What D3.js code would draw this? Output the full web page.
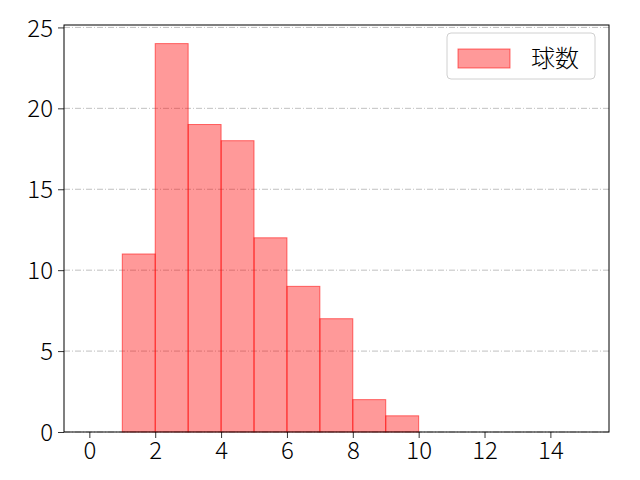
<!DOCTYPE html>
<html>
<head>
<meta charset="utf-8">
<script src="https://cdn.jsdelivr.net/npm/d3@7"></script>
<style>
  body { margin: 0; background: #fff; }
  text { font-family: "Noto Sans CJK JP", "DejaVu Sans", sans-serif; }
</style>
</head>
<body>
<svg id="chart" width="640" height="480"></svg>
<script>
// histogram bins (left edges) and counts
const binStarts = [1, 2, 3, 4, 5, 6, 7, 8, 9];
const counts = [11, 24, 19, 18, 12, 9, 7, 2, 1];
const xTicks = [0, 2, 4, 6, 8, 10, 12, 14];
const yTicks = [0, 5, 10, 15, 20, 25];
const seriesName = "球数";

const svg = d3.select("#chart");
const margin = {left: 64, right: 31, top: 25, bottom: 48};
const width = 640 - margin.left - margin.right;
const height = 480 - margin.top - margin.bottom;

const x = d3.scaleLinear().domain([-0.77, 15.78]).range([0, width]);
const y = d3.scaleLinear().domain([0, 25.15]).range([height, 0]);

const g = svg.append("g")
  .attr("transform", "translate(" + margin.left + "," + margin.top + ")");

// grid
g.append("g")
  .selectAll("line")
  .data(yTicks)
  .enter()
  .append("line")
  .attr("x1", 0)
  .attr("x2", width)
  .attr("y1", d => y(d))
  .attr("y2", d => y(d))
  .attr("stroke", "#b0b0b0")
  .attr("stroke-width", 0.8)
  .attr("stroke-dasharray", "6,2,1,2");

// bars
g.append("g")
  .selectAll("rect")
  .data(binStarts)
  .enter()
  .append("rect")
  .attr("x", d => x(d))
  .attr("y", (d, i) => y(counts[i]))
  .attr("width", d => x(d + 1) - x(d))
  .attr("height", (d, i) => y(0) - y(counts[i]))
  .attr("fill", "rgba(255,0,0,0.4)")
  .attr("stroke", "rgba(255,0,0,0.55)")
  .attr("stroke-width", 1);

// axes
const xAxis = d3.axisBottom(x).tickValues(xTicks).tickSize(6).tickPadding(4);
const yAxis = d3.axisLeft(y).tickValues(yTicks).tickSize(6).tickPadding(5);

const gx = g.append("g")
  .attr("transform", "translate(0," + height + ")")
  .call(xAxis);
const gy = g.append("g").call(yAxis);

[gx, gy].forEach(a => {
  a.select(".domain").remove();
  a.selectAll("line").attr("stroke", "#000").attr("stroke-width", 0.8);
  a.selectAll("text").attr("font-size", 24).attr("fill", "#000")
    .style("font-family", "'Noto Sans CJK JP', 'DejaVu Sans', sans-serif")
    .style("font-weight", 300);
});
gy.selectAll("text").attr("dy", "0.36em");

g.append("rect")
  .attr("x", 0)
  .attr("y", 0)
  .attr("width", width)
  .attr("height", height)
  .attr("fill", "none")
  .attr("stroke", "#000")
  .attr("stroke-width", 1);

// legend
const lg = g.append("g").attr("transform", "translate(" + (width - 162) + ",8)");
lg.append("rect")
  .attr("width", 148)
  .attr("height", 46)
  .attr("rx", 4)
  .attr("fill", "rgba(255,255,255,0.8)")
  .attr("stroke", "#d0d0d0");
lg.append("rect")
  .attr("x", 11)
  .attr("y", 16)
  .attr("width", 52)
  .attr("height", 19)
  .attr("fill", "rgba(255,0,0,0.4)")
  .attr("stroke", "rgba(255,0,0,0.55)");
lg.append("text")
  .attr("x", 84)
  .attr("y", 34)
  .attr("font-size", 24)
  .style("font-weight", 300)
  .text(seriesName);
</script>
</body>
</html>
